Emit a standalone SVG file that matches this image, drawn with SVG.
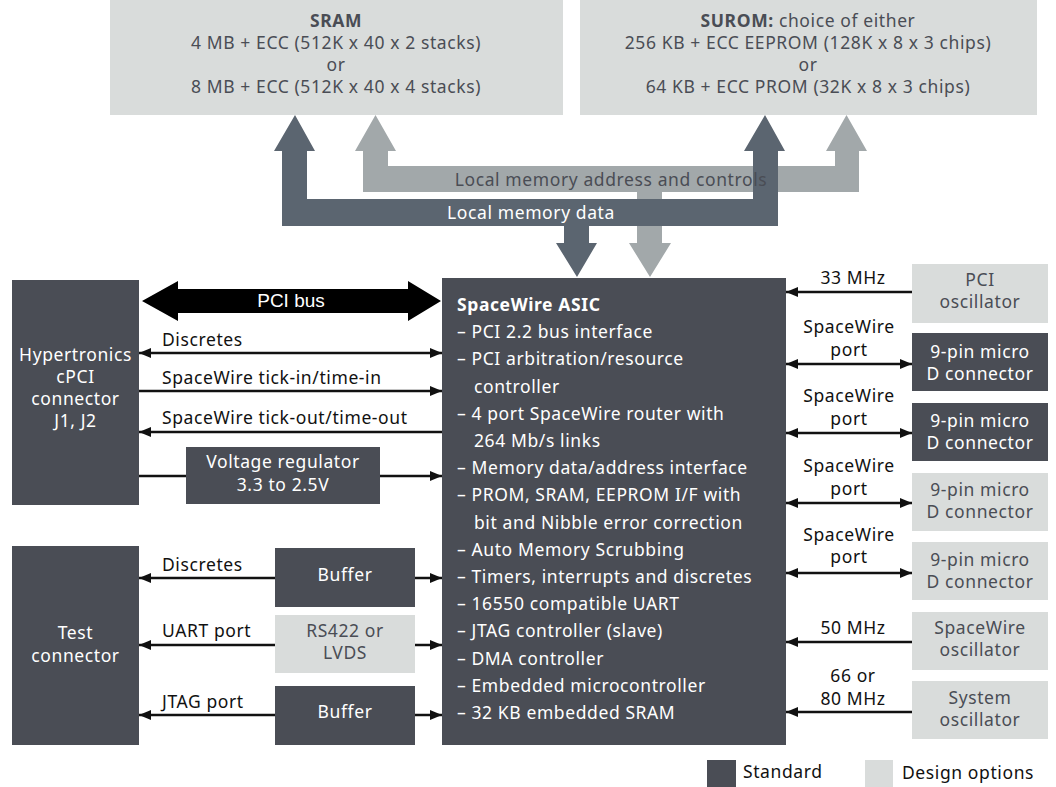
<svg xmlns="http://www.w3.org/2000/svg" width="1056" height="787" viewBox="0 0 1056 787">
<style>
text{font-family:"Noto Sans","Open Sans",sans-serif;font-size:17.5px;letter-spacing:0.6px;}
.dk{fill:#4a4d55;}
.lt{fill:#d9dcdb;}
.wt{fill:#ffffff;}
.gt{fill:#4a4d55;}
.bt{fill:#111111;}
.c{text-anchor:middle;}
.b{font-weight:bold;}
.ln{stroke:#111111;stroke-width:2.5;fill:none;}
.pci{font-family:"Liberation Sans",Arial,sans-serif;font-size:19px;letter-spacing:0;}
</style>
<defs>
<marker id="ah" viewBox="0 0 12 10" refX="12" refY="5" markerWidth="12" markerHeight="10" markerUnits="userSpaceOnUse" orient="auto-start-reverse">
<path d="M0,0 L12,5 L0,10 z" fill="#111111"/>
</marker>
</defs>
<rect width="1056" height="787" fill="#ffffff"/>

<g id="sram">
<rect x="110" y="0" width="453" height="115" class="lt"/>
<text x="336" y="27" class="c gt b">SRAM</text>
<text x="336" y="49" class="c gt">4 MB + ECC (512K x 40 x 2 stacks)</text>
<text x="336" y="71" class="c gt">or</text>
<text x="336" y="93" class="c gt">8 MB + ECC (512K x 40 x 4 stacks)</text>
</g>
<g id="surom">
<rect x="580" y="0" width="457" height="115" class="lt"/>
<text x="808" y="27" class="c gt"><tspan class="b">SUROM:</tspan> choice of either</text>
<text x="808" y="49" class="c gt">256 KB + ECC EEPROM (128K x 8 x 3 chips)</text>
<text x="808" y="71" class="c gt">or</text>
<text x="808" y="93" class="c gt">64 KB + ECC PROM (32K x 8 x 3 chips)</text>
</g>

<g id="connectors">
<polygon fill="#a2a8aa" points="375.5,115 396,151 388,151 388,166 835,166 835,151 826,151 846.5,115 867,151 859,151 859,192 662,192 662,243 671,243 650,277 629,243 637,243 637,192 363,192 363,151 355,151"/>
<polygon fill="#5b6570" points="295,115 315,151 307,151 307,199 753,199 753,151 744,151 765,115 785,151 778,151 778,226 589,226 589,243 597,243 577,277 556,243 564,243 564,226 282,226 282,151 274,151"/>
<text x="611" y="186" class="c gt">Local memory address and controls</text>
<text x="531" y="219" class="c wt">Local memory data</text>

<polygon fill="#000000" points="142,301 178,281 178,289 408,289 408,281 441,301 408,321 408,313 178,313 178,321"/>
<text x="291" y="307" class="c wt pci">PCI bus</text>

<line x1="139" y1="353" x2="442" y2="353" class="ln" marker-start="url(#ah)" marker-end="url(#ah)"/>
<text x="162" y="346" class="bt">Discretes</text>
<line x1="139" y1="391" x2="442" y2="391" class="ln" marker-end="url(#ah)"/>
<text x="162" y="384" class="bt">SpaceWire tick-in/time-in</text>
<line x1="442" y1="432" x2="139" y2="432" class="ln" marker-end="url(#ah)"/>
<text x="162" y="424" class="bt">SpaceWire tick-out/time-out</text>
<line x1="139" y1="476" x2="186" y2="476" class="ln"/>
<line x1="380" y1="476" x2="442" y2="476" class="ln" marker-end="url(#ah)"/>

<line x1="275" y1="578" x2="139" y2="578" class="ln" marker-end="url(#ah)"/>
<text x="162" y="571" class="bt">Discretes</text>
<line x1="415" y1="578" x2="442" y2="578" class="ln" marker-end="url(#ah)"/>
<line x1="275" y1="645" x2="139" y2="645" class="ln" marker-end="url(#ah)"/>
<text x="162" y="637" class="bt">UART port</text>
<line x1="415" y1="645" x2="442" y2="645" class="ln" marker-end="url(#ah)"/>
<line x1="275" y1="715" x2="139" y2="715" class="ln" marker-end="url(#ah)"/>
<text x="162" y="708" class="bt">JTAG port</text>
<line x1="415" y1="715" x2="442" y2="715" class="ln" marker-end="url(#ah)"/>

<line x1="912" y1="292" x2="786" y2="292" class="ln" marker-end="url(#ah)"/>
<text x="853" y="284" class="c bt">33 MHz</text>
<line x1="786" y1="364" x2="912" y2="364" class="ln" marker-start="url(#ah)" marker-end="url(#ah)"/>
<text x="849" y="333" class="c bt">SpaceWire</text>
<text x="849" y="355.5" class="c bt">port</text>
<line x1="786" y1="433" x2="912" y2="433" class="ln" marker-start="url(#ah)" marker-end="url(#ah)"/>
<text x="849" y="402" class="c bt">SpaceWire</text>
<text x="849" y="424.5" class="c bt">port</text>
<line x1="786" y1="503" x2="912" y2="503" class="ln" marker-start="url(#ah)" marker-end="url(#ah)"/>
<text x="849" y="472" class="c bt">SpaceWire</text>
<text x="849" y="494.5" class="c bt">port</text>
<line x1="786" y1="573" x2="912" y2="573" class="ln" marker-start="url(#ah)" marker-end="url(#ah)"/>
<text x="849" y="540.5" class="c bt">SpaceWire</text>
<text x="849" y="563" class="c bt">port</text>
<line x1="912" y1="642" x2="786" y2="642" class="ln" marker-end="url(#ah)"/>
<text x="853" y="634" class="c bt">50 MHz</text>
<line x1="912" y1="712" x2="786" y2="712" class="ln" marker-end="url(#ah)"/>
<text x="853" y="682" class="c bt">66 or</text>
<text x="853" y="704.5" class="c bt">80 MHz</text>
</g>

<g id="hypertronics">
<rect x="12" y="280" width="127" height="225" class="dk"/>
<text x="75.5" y="361" class="c wt">Hypertronics</text>
<text x="75.5" y="383" class="c wt">cPCI</text>
<text x="75.5" y="405" class="c wt">connector</text>
<text x="75.5" y="427" class="c wt">J1, J2</text>
</g>
<g id="vreg">
<rect x="186" y="447" width="194" height="57" class="dk"/>
<text x="283" y="468" class="c wt">Voltage regulator</text>
<text x="283" y="491" class="c wt">3.3 to 2.5V</text>
</g>
<g id="test">
<rect x="12" y="546" width="127" height="199" class="dk"/>
<text x="75.5" y="639" class="c wt">Test</text>
<text x="75.5" y="662" class="c wt">connector</text>
</g>
<g id="buffer1">
<rect x="275" y="548" width="140" height="59" class="dk"/>
<text x="345" y="581" class="c wt">Buffer</text>
</g>
<g id="rs422">
<rect x="275" y="615" width="140" height="58" class="lt"/>
<text x="345" y="637" class="c gt">RS422 or</text>
<text x="345" y="659" class="c gt">LVDS</text>
</g>
<g id="buffer2">
<rect x="275" y="686" width="140" height="59" class="dk"/>
<text x="345" y="718" class="c wt">Buffer</text>
</g>

<g id="asic">
<rect x="442" y="278" width="344" height="467" class="dk"/>
<text x="457" y="311" class="wt b">SpaceWire ASIC</text>
<text x="457" y="338.2" class="wt">– PCI 2.2 bus interface</text>
<text x="457" y="365.4" class="wt">– PCI arbitration/resource</text>
<text x="474" y="392.6" class="wt">controller</text>
<text x="457" y="419.8" class="wt">– 4 port SpaceWire router with</text>
<text x="474" y="447" class="wt">264 Mb/s links</text>
<text x="457" y="474.2" class="wt">– Memory data/address interface</text>
<text x="457" y="501.4" class="wt">– PROM, SRAM, EEPROM I/F with</text>
<text x="474" y="528.6" class="wt">bit and Nibble error correction</text>
<text x="457" y="555.8" class="wt">– Auto Memory Scrubbing</text>
<text x="457" y="583" class="wt">– Timers, interrupts and discretes</text>
<text x="457" y="610.2" class="wt">– 16550 compatible UART</text>
<text x="457" y="637.4" class="wt">– JTAG controller (slave)</text>
<text x="457" y="664.6" class="wt">– DMA controller</text>
<text x="457" y="691.8" class="wt">– Embedded microcontroller</text>
<text x="457" y="719" class="wt">– 32 KB embedded SRAM</text>
</g>

<g id="pci-osc">
<rect x="912" y="264" width="136" height="59" class="lt"/>
<text x="980" y="286" class="c gt">PCI</text>
<text x="980" y="308" class="c gt">oscillator</text>
</g>
<g id="dconn1">
<rect x="912" y="333" width="136" height="58" class="dk"/>
<text x="980" y="358" class="c wt">9-pin micro</text>
<text x="980" y="380" class="c wt">D connector</text>
</g>
<g id="dconn2">
<rect x="912" y="403" width="136" height="58" class="dk"/>
<text x="980" y="427" class="c wt">9-pin micro</text>
<text x="980" y="449" class="c wt">D connector</text>
</g>
<g id="dconn3">
<rect x="912" y="473" width="136" height="58" class="lt"/>
<text x="980" y="496" class="c gt">9-pin micro</text>
<text x="980" y="518" class="c gt">D connector</text>
</g>
<g id="dconn4">
<rect x="912" y="542" width="136" height="58" class="lt"/>
<text x="980" y="566" class="c gt">9-pin micro</text>
<text x="980" y="588" class="c gt">D connector</text>
</g>
<g id="sw-osc">
<rect x="912" y="612" width="136" height="58" class="lt"/>
<text x="980" y="634" class="c gt">SpaceWire</text>
<text x="980" y="656" class="c gt">oscillator</text>
</g>
<g id="sys-osc">
<rect x="912" y="681" width="136" height="58" class="lt"/>
<text x="980" y="704" class="c gt">System</text>
<text x="980" y="726" class="c gt">oscillator</text>
</g>

<g id="legend">
<rect x="707" y="760" width="29" height="27" class="dk"/>
<text x="743" y="778" class="bt">Standard</text>
<rect x="865" y="760" width="28" height="27" class="lt"/>
<text x="902" y="779" class="bt">Design options</text>
</g>
</svg>
